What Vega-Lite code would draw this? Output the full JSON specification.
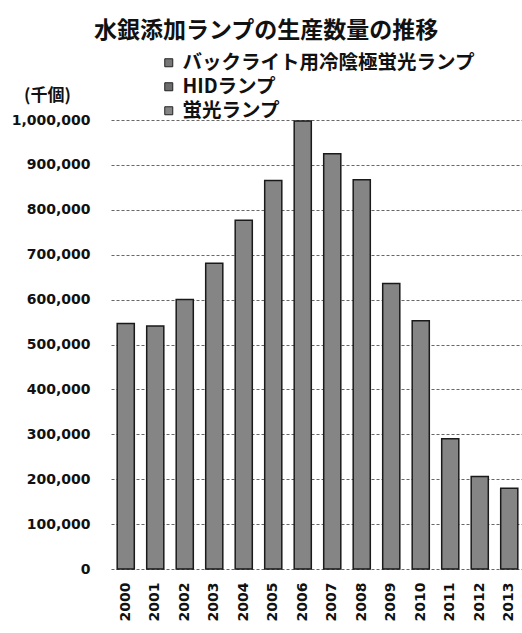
{
  "$schema": "https://vega.github.io/schema/vega-lite/v6.json",
  "autosize": {"type": "none"},
  "width": 413,
  "height": 449,
  "padding": {"left": 111, "top": 120, "right": 0, "bottom": 64},
  "background": "#ffffff",
  "title": {
    "text": "水銀添加ランプの生産数量の推移",
    "font": "Noto Sans CJK JP",
    "fontSize": 23,
    "fontWeight": "bold",
    "color": "#111111",
    "anchor": "start",
    "frame": "group",
    "dx": -17,
    "dy": -6
  },
  "data": {
    "values": [
      {"year": "2000", "series": "蛍光ランプ", "value": 547000},
      {"year": "2001", "series": "蛍光ランプ", "value": 541000},
      {"year": "2002", "series": "蛍光ランプ", "value": 600000},
      {"year": "2003", "series": "蛍光ランプ", "value": 681000},
      {"year": "2004", "series": "蛍光ランプ", "value": 777000},
      {"year": "2005", "series": "蛍光ランプ", "value": 865000},
      {"year": "2006", "series": "蛍光ランプ", "value": 998000},
      {"year": "2007", "series": "蛍光ランプ", "value": 925000},
      {"year": "2008", "series": "蛍光ランプ", "value": 867000},
      {"year": "2009", "series": "蛍光ランプ", "value": 636000},
      {"year": "2010", "series": "蛍光ランプ", "value": 553000},
      {"year": "2011", "series": "蛍光ランプ", "value": 290000},
      {"year": "2012", "series": "蛍光ランプ", "value": 206000},
      {"year": "2013", "series": "蛍光ランプ", "value": 180000}
    ]
  },
  "mark": {"type": "bar", "stroke": "#1a1a1a", "strokeWidth": 1.5},
  "encoding": {
    "x": {
      "field": "year",
      "type": "ordinal",
      "scale": {"paddingInner": 0.42, "paddingOuter": 0.21},
      "axis": {
        "title": null,
        "labelAngle": -90,
        "labelFont": "DejaVu Sans",
        "labelFontWeight": "bold",
        "labelFontSize": 14,
        "labelColor": "#111111",
        "labelPadding": 13,
        "ticks": false,
        "domain": false
      }
    },
    "y": {
      "field": "value",
      "type": "quantitative",
      "scale": {"domain": [0, 1000000], "nice": false},
      "axis": {
        "title": "(千個)",
        "titleAngle": 0,
        "titleFont": "Noto Sans CJK JP",
        "titleFontSize": 17,
        "titleFontWeight": "bold",
        "titleColor": "#111111",
        "titleAlign": "center",
        "titleBaseline": "middle",
        "titleX": -64,
        "titleY": -25,
        "values": [0, 100000, 200000, 300000, 400000, 500000, 600000, 700000, 800000, 900000, 1000000],
        "format": ",d",
        "labelFont": "DejaVu Sans",
        "labelFontWeight": "bold",
        "labelFontSize": 14,
        "labelColor": "#111111",
        "labelPadding": 21,
        "ticks": false,
        "domain": false,
        "grid": true,
        "gridColor": "#333333",
        "gridDash": [3, 2],
        "gridOpacity": 0.75,
        "gridWidth": 1
      }
    },
    "color": {
      "field": "series",
      "type": "nominal",
      "scale": {
        "domain": ["バックライト用冷陰極蛍光ランプ", "HIDランプ", "蛍光ランプ"],
        "range": ["#777777", "#6c6c6c", "#858585"]
      },
      "legend": {
        "title": null,
        "orient": "none",
        "legendX": 48,
        "legendY": -67,
        "symbolType": "square",
        "symbolSize": 64,
        "symbolStrokeColor": "#222222",
        "symbolStrokeWidth": 1,
        "labelFont": "Noto Sans CJK JP",
        "labelFontSize": 19.5,
        "labelFontWeight": "bold",
        "labelColor": "#111111",
        "labelOffset": 4,
        "labelLimit": 0,
        "rowPadding": 3
      }
    }
  },
  "config": {
    "view": {"stroke": null}
  }
}
